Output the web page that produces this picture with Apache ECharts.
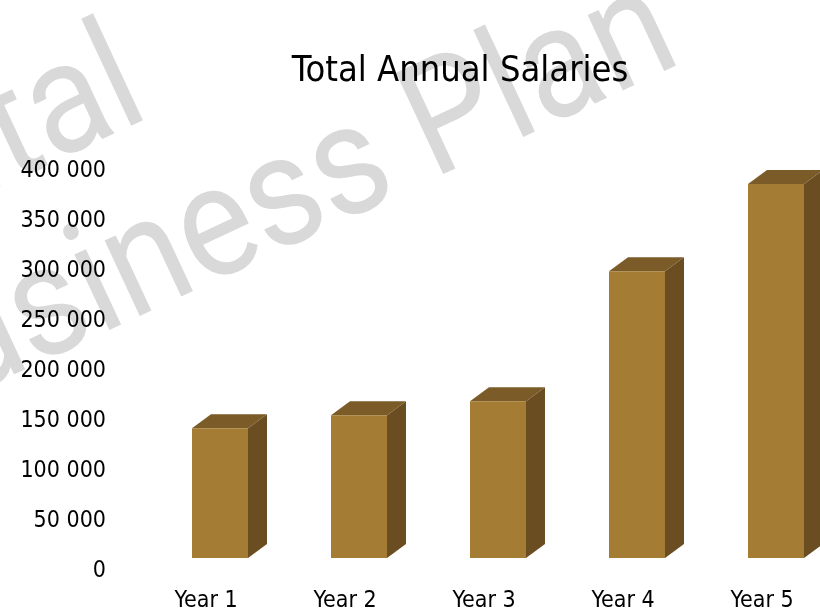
<!DOCTYPE html>
<html>
<head>
<meta charset="utf-8">
<script src="https://cdn.jsdelivr.net/npm/echarts@6/dist/echarts.min.js"></script>
<style>
  html, body { margin: 0; padding: 0; background: #fff; }
  #chart { width: 820px; height: 614px; }
</style>
</head>
<body>
<div id="chart"></div>
<script>
// data
var years = ['Year 1', 'Year 2', 'Year 3', 'Year 4', 'Year 5']
var salaries = [143000, 156000, 170000, 300000, 387000]
var yTicks = [0, 50000, 100000, 150000, 200000, 250000, 300000, 350000, 400000]

var labelFont = '"DejaVu Sans Condensed", "DejaVu Sans", sans-serif'
// 3d box look
var faceW = 56
var faceShift = 14
var depthX = 19
var depthY = -14
var floorLift = 13.5
var markAngle = 25 * Math.PI / 180

var chart = echarts.init(document.getElementById('chart'))

function fmt(v) {
  return String(v).replace(/\B(?=(\d{3})+(?!\d))/g, ' ')
}

function watermark(text, x, y) {
  return {
    type: 'text',
    x: x,
    y: y,
    rotation: markAngle,
    scaleX: 0.94,
    scaleY: 1.05,
    z: -10,
    silent: true,
    style: {
      text: text,
      fontSize: 150,
      fontFamily: 'Roboto',
      fill: '#d9d9d9',
      textAlign: 'right',
      textVerticalAlign: 'middle'
    }
  }
}

var option = {
  backgroundColor: '#fff',
  animation: false,
  title: {
    text: 'Total Annual Salaries',
    left: 455,
    top: 49,
    textAlign: 'center',
    textStyle: {
      fontFamily: labelFont,
      fontSize: 36,
      fontWeight: 'normal',
      color: '#000'
    }
  },
  graphic: [
    watermark('Digital', 136, 80),
    watermark('Business Plan', 668, 26)
  ],
  grid: {
    left: 206,
    top: 171,
    width: 556,
    height: 400.5
  },
  xAxis: {
    type: 'category',
    data: years,
    boundaryGap: false,
    axisLine: { show: false },
    axisTick: { show: false },
    axisLabel: {
      margin: 18,
      color: '#000',
      fontSize: 23,
      fontFamily: labelFont
    }
  },
  yAxis: {
    type: 'value',
    min: yTicks[0],
    max: yTicks[yTicks.length - 1],
    interval: yTicks[1] - yTicks[0],
    axisLine: { show: false },
    axisTick: { show: false },
    splitLine: { show: false },
    axisLabel: {
      margin: 100,
      color: '#000',
      fontSize: 23,
      fontFamily: labelFont,
      formatter: fmt
    }
  },
  series: [
    {
      type: 'custom',
      clip: false,
      data: salaries.map(function (v, i) { return [i, v] }),
      renderItem: function (params, api) {
        var top = api.coord([api.value(0), api.value(1)])
        var base = api.coord([api.value(0), 0])
        var l = top[0] + faceShift - faceW / 2
        var r = l + faceW
        var t = top[1]
        var b = base[1] - floorLift
        return {
          type: 'group',
          children: [
            {
              type: 'polygon',
              shape: { points: [[r, t], [r + depthX, t + depthY], [r + depthX, b + depthY], [r, b]] },
              style: { fill: '#6a4e22' }
            },
            {
              type: 'polygon',
              shape: { points: [[l, t], [l + depthX, t + depthY], [r + depthX, t + depthY], [r, t]] },
              style: { fill: '#7b5b28' }
            },
            {
              type: 'rect',
              shape: { x: l, y: t, width: faceW, height: b - t },
              style: { fill: '#a57c34' }
            }
          ]
        }
      }
    }
  ]
}

chart.setOption(option)
</script>
</body>
</html>
